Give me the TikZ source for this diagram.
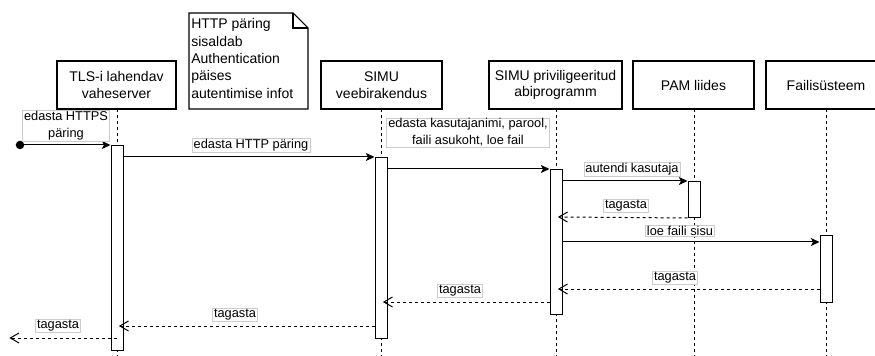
\documentclass[tikz,border=0pt]{standalone}
\usepackage{fontspec}
\setmainfont{Liberation Sans}
\usetikzlibrary{arrows.meta}
\begin{document}
\begin{tikzpicture}[x=0.75pt,y=-0.75pt,
  lifebox/.style={draw, line width=0.8pt, fill=white, inner sep=0pt, align=center,
    minimum height=36pt, font=\fontsize{10.5}{12.5}\selectfont},
  lifeline/.style={line width=0.75pt, dash pattern=on 2.25pt off 2.25pt},
  actbar/.style={draw, line width=0.75pt, fill=white, inner sep=0pt, anchor=north, minimum width=9pt},
  msg/.style={line width=0.75pt, -{Stealth[length=6.5pt,width=6pt,inset=1.6pt]}},
  ret/.style={line width=0.75pt, dash pattern=on 2.25pt off 2.25pt, shorten >=-3.5pt,
    -{Straight Barb[length=6.5pt,width=7.5pt]}},
  lbl/.style={fill=white, draw=black!20, line width=0.4pt, inner xsep=1.2pt, inner ysep=0.7pt,
    align=center, font=\fontsize{9.6}{12.5}\selectfont},
  notetext/.style={inner sep=0pt, align=left, anchor=west, font=\fontsize{10.5}{13.1}\selectfont}
]
\useasboundingbox (0,0) rectangle (875,356);
\clip (0,0) rectangle (875,356);

% lifeline heads
\node[lifebox, minimum width=89.25pt] (tls) at (116.5,85) {TLS-i lahendav\\vaheserver};
\node[lifebox, minimum width=90.75pt] (web) at (381.5,85) {SIMU\\veebirakendus};
\node[lifebox, minimum width=99.75pt] (priv) at (555.5,85) {SIMU priviligeeritud\\abiprogramm};
\node[lifebox, minimum width=90.75pt] (pam) at (693.5,85) {PAM liides};
\node[lifebox, minimum width=90pt] (fs) at (826,85) {Failisüsteem};

% note
\draw[line width=0.8pt, fill=white] (189,13) -- (293,13) -- (308,28) -- (308,109) -- (189,109) -- cycle;
\draw[line width=0.8pt] (293,13) -- (293,28) -- (308,28);
\node[notetext] (note) at (191,58.5) {HTTP päring\\sisaldab\\Authentication\\päises\\autentimise infot};

% lifelines
\draw[lifeline] (117,109) -- (117,356);
\draw[lifeline] (381,109) -- (381,356);
\draw[lifeline] (556,109) -- (556,356);
\draw[lifeline] (694,109) -- (694,356);
\draw[lifeline] (826,109) -- (826,356);

% activation bars
\node[actbar, minimum height=153.75pt] (bar1) at (117,145) {};
\node[actbar, minimum height=135.75pt] (bar2) at (381,157) {};
\node[actbar, minimum height=108.75pt] (bar3) at (556,169) {};
\node[actbar, minimum height=27pt] (bar4) at (694,181) {};
\node[actbar, minimum height=50.25pt] (bar5) at (826,235) {};

% messages
\coordinate (start) at (20,145);
\coordinate (out) at (14,338);
\fill (start) circle (3.2pt);
\draw[msg] (start) -- (bar1.north west);
\node[lbl] (l1) at (66,126) {edasta HTTPS\\päring};

\draw[msg] (bar1.east |- 0,157) -- (bar2.north west);
\node[lbl] (l2) at (251,145) {edasta HTTP päring};

\draw[msg] (bar2.east |- 0,169) -- (bar3.north west);
\node[lbl] (l3) at (468,132.5) {edasta kasutajanimi, parool,\\faili asukoht, loe fail};

\draw[msg] (bar3.east |- 0,181) -- (bar4.north west);
\node[lbl] (l4) at (632,169.5) {autendi kasutaja};

\draw[ret] (bar4.south west) -- (bar3.east |- 0,217);
\node[lbl] (l5) at (626,206) {tagasta};

\draw[msg] (bar3.east |- 0,242) -- (bar5.west |- 0,242);
\node[lbl] (l6) at (680,231) {loe faili sisu};

\draw[ret] (bar5.west |- 0,289) -- (bar3.east |- 0,289);
\node[lbl] (l7) at (675,278) {tagasta};

\draw[ret] (bar3.west |- 0,302) -- (bar2.east |- 0,302);
\node[lbl] (l8) at (460,291) {tagasta};

\draw[ret] (bar2.west |- 0,326) -- (bar1.east |- 0,326);
\node[lbl] (l9) at (235,315) {tagasta};

\draw[ret] (bar1.center |- 0,338) -- (out);
\node[lbl] (l10) at (58,326) {tagasta};
\end{tikzpicture}
\end{document}
